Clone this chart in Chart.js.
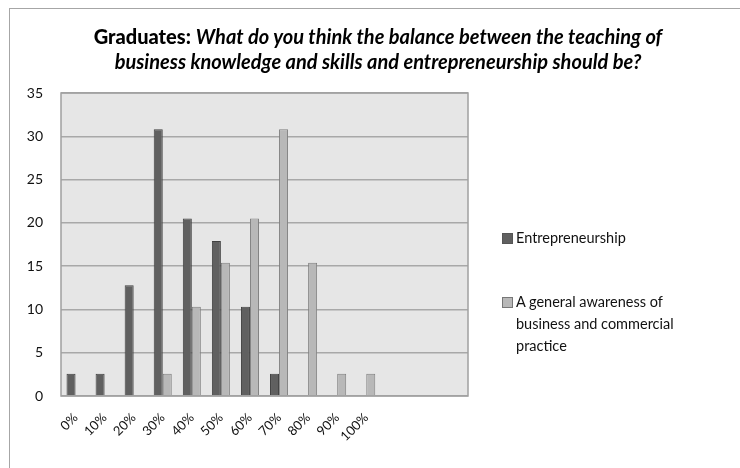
<!DOCTYPE html>
<html>
<head>
  <title>Graduates - balance of teaching</title>
  <script src="https://cdn.jsdelivr.net/npm/chart.js@4"></script>
  <style>
    body { margin: 0; background: #fff; font-family: Lato, "Open Sans", sans-serif; }
    #wrap { position: relative; width: 740px; height: 468px; overflow: hidden; }
    #frame { position: absolute; left: 9px; top: 8px; width: 800px; height: 520px; border: 1px solid #a6a6a6; }
    #title { position: absolute; left: 0; top: 24px; width: 756px; text-align: center; font-size: 20px; font-weight: bold; line-height: 25px; color: #000; }
    #title i { font-style: italic; }
    canvas { position: absolute; left: 0; top: 0; }
    .leg { position: absolute; left: 502px; font-size: 14.5px; line-height: 22px; color: #111; }
    .leg span { position: absolute; left: 0; top: 6px; width: 9px; height: 9px; border: 1px solid #555; }
    .leg div { margin-left: 14px; }
  </style>
</head>
<body>
<div id="wrap">
  <div id="frame"></div>
  <canvas id="chart" width="740" height="468"></canvas>
  <div id="title"><b>Graduates:</b> <i>What do you think the balance between the teaching of<br>business knowledge and skills and entrepreneurship should be?</i></div>
  <div class="leg" style="top:227px"><span style="background:#606060"></span><div>Entrepreneurship</div></div>
  <div class="leg" style="top:291px"><span style="background:#b8b8b8;border-color:#777"></span><div>A general awareness of<br>business and commercial<br>practice</div></div>
</div>

<script>
  const labels = ['0%', '10%', '20%', '30%', '40%', '50%', '60%', '70%', '80%', '90%', '100%', '', '', ''];
  const entrepreneurship = [2.56, 2.56, 12.8, 30.8, 20.5, 17.9, 10.3, 2.56, null, null, null, null, null, null];
  const general_awareness = [null, null, null, 2.56, 10.3, 15.4, 20.5, 30.8, 15.4, 2.56, 2.56, null, null, null];
  const y_ticks = [0, 5, 10, 15, 20, 25, 30, 35];

  const plot_bg = {
    id: 'plot_bg',
    beforeDraw(chart){
      const {ctx, chartArea: a} = chart;
      ctx.save();
      ctx.fillStyle = '#e6e6e6';
      ctx.fillRect(a.left, a.top, a.right - a.left, a.bottom - a.top);
      ctx.restore();
    },
    afterDatasetsDraw(chart){
      const {ctx, chartArea: a} = chart;
      ctx.save();
      ctx.strokeStyle = '#a0a0a0';
      ctx.lineWidth = 1.5;
      ctx.strokeRect(a.left, a.top, a.right - a.left, a.bottom - a.top);
      ctx.restore();
    }
  };

  new Chart(document.getElementById('chart'), {
    type: 'bar',
    data: {
      labels,
      datasets: [
        {label: 'Entrepreneurship', data: entrepreneurship, backgroundColor: '#606060', borderColor: '#404040', borderWidth: 1},
        {label: 'A general awareness of business and commercial practice', data: general_awareness, backgroundColor: '#b8b8b8', borderColor: '#808080', borderWidth: 1}
      ]
    },
    options: {
      responsive: false,
      animation: false,
      layout: {padding: {top: 93, right: 272, left: 0, bottom: 0}},
      datasets: {bar: {categoryPercentage: 0.62, barPercentage: 1}},
      plugins: {legend: {display: false}, tooltip: {enabled: false}},
      scales: {
        x: {
          grid: {display: false},
          border: {display: false},
          ticks: {color: '#111', font: {family: 'Lato', size: 13}, maxRotation: 45, minRotation: 45, autoSkip: false, padding: 6},
          afterFit: s => { s.height = 72; }
        },
        y: {
          min: 0, max: 35,
          afterBuildTicks: s => { s.ticks = y_ticks.map(v => ({value: v})); },
          grid: {color: '#a8a8a8', lineWidth: 1.5, drawTicks: false},
          border: {display: false},
          ticks: {color: '#111', font: {family: 'Lato', size: 14}, padding: 18},
          afterFit: s => { s.width = 61; }
        }
      }
    },
    plugins: [plot_bg]
  });
</script>
</body>
</html>
